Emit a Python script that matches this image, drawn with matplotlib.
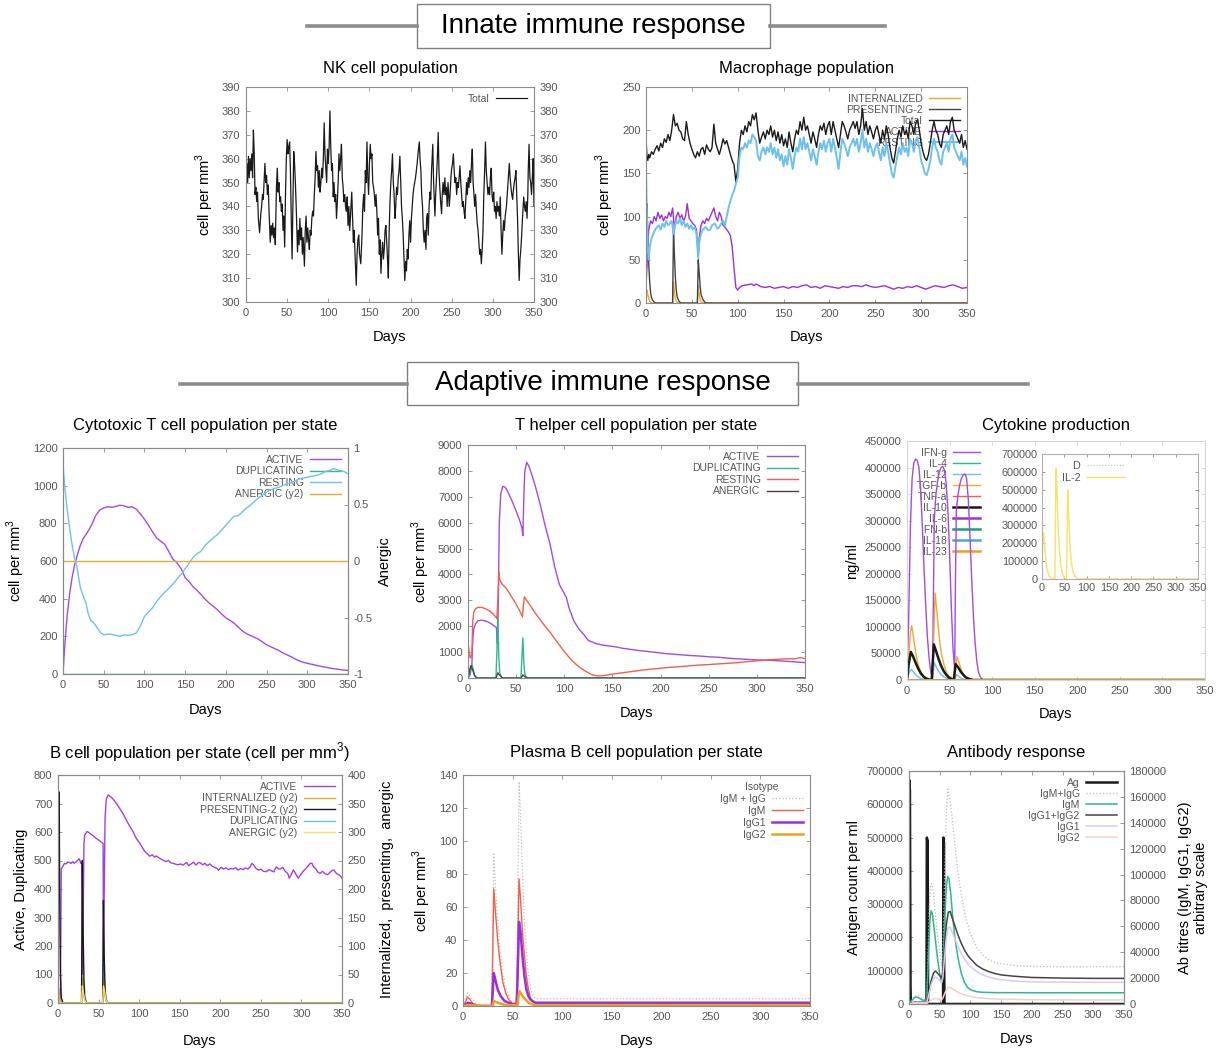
import matplotlib
matplotlib.use('Agg')
import matplotlib.pyplot as plt
from matplotlib.lines import Line2D
from matplotlib.patches import Rectangle

# ---------------- DATA ----------------
days_ticks = [0, 50, 100, 150, 200, 250, 300, 350]

nk_total = [(0,347),(1,358),(2,350),(3,361),(4,352),(5,360),(6,355),(7,362),(8,352),(9,372),(10,362),(11,345),(12,348),(13,342),(14,346),(15,335),(16.5,329),(18,337),(19,340),(20,345),(21,343),(22,351),(23,358),(24,350),(25,353),(26,345),(27,349),(28,338),(29.5,325),(30.5,332),(31.5,328),(32.5,333),(33.5,327),(34.5,331),(35.6,324),(36.5,340),(37,348),(38,356),(39,346),(40,350),(41,342),(42,344),(43,338),(44,341),(45,330),(46,336),(47,323),(48,345),(49,360),(50,368),(51,362),(52,365),(53,367),(54,355),(55,335),(56,318),(57,340),(58,363),(59,358),(60,350),(61,340),(62.6,321),(63.5,330),(64.5,324),(65.5,335),(66.5,326),(67.5,331),(68.5,320),(69.5,327),(71,315),(72,330),(73,336),(74,325),(75,331),(76,326),(77,322),(78,330),(79,328),(80,335),(81,338),(82,336),(83,345),(84,352),(85,363),(86,355),(87,357),(88,348),(89,355),(90,346),(91,350),(92,356),(93,352),(94,360),(95,375),(96,362),(97,356),(98,350),(99,364),(100,358),(101,365),(102,380),(103,365),(104,355),(105,358),(106,344),(107,350),(108,342),(109,345),(110,335),(111,342),(112,350),(113,362),(114,355),(115,360),(116,366),(117,352),(118,348),(119,342),(120,345),(121,340),(122,338),(123,344),(124,332),(125,340),(126,330),(127,336),(128.5,346),(129.5,335),(130.5,325),(131.5,330),(132.5,320),(134,307),(135,320),(136,326),(137,328),(138,320),(139.5,316),(141,328),(142,340),(143,345),(144,338),(145,355),(146,350),(147,367),(148,352),(149,345),(150,358),(151,366),(152,360),(153,362),(154,350),(155,348),(156,345),(157,340),(158,345),(159,338),(160,328),(161,335),(162,320),(163,326),(164,312),(165,320),(166,325),(167,318),(168,322),(169,330),(170,332),(171,325),(172,318),(173,310),(174,330),(175,342),(176,350),(177,355),(178,362),(179,350),(180,345),(181,335),(182,340),(183,348),(184,345),(185,352),(186,355),(187,361),(188,350),(189,340),(190,335),(191,328),(192,318),(193,309),(194,317),(195,313),(196,322),(197,318),(198,328),(199,334),(200,325),(201,335),(202,340),(203,345),(204,348),(205,350),(206,352),(207,355),(208,358),(209,362),(210.6,367),(211.5,360),(212.5,355),(213.5,345),(214.5,340),(215.5,330),(216.5,325),(217.5,330),(218.7,322),(219.5,335),(220.5,337),(221.5,328),(222.5,340),(223.5,346),(224.5,343),(225.5,355),(227,366),(228,350),(229.6,336),(230.5,345),(231.5,352),(232.5,360),(233.6,371),(234.5,355),(235.5,348),(236.5,342),(237.7,337),(238.5,345),(239.5,350),(240.5,345),(241.7,352),(242.5,345),(243.5,348),(244.5,340),(245.5,350),(247,340),(248,345),(249,352),(250,356),(251,358),(252,362),(253,355),(254,350),(255,352),(256,345),(257,350),(258,348),(259,352),(260,357),(261,350),(262,345),(263,340),(264,342),(265,338),(266,335),(267,342),(268,350),(269,345),(270,352),(271,348),(272,355),(273,350),(274,358),(275,364),(276,350),(277,345),(278,340),(279,345),(280,338),(281,333),(282,330),(283,325),(284,320),(285,322),(286,316),(287,322),(288,330),(289,345),(290,355),(291,367),(292,355),(293,350),(294,345),(295,348),(296,345),(297,352),(298,356),(299,345),(300,342),(301,346),(302,338),(303,340),(304,335),(305,342),(306,338),(307,340),(308,336),(309,344),(310,330),(311,320),(312,328),(313,334),(314,330),(315,336),(316.5,340),(317.5,345),(318.5,350),(320,358),(321,352),(322,348),(323,345),(324,343),(325,347),(326,350),(327,352),(328,355),(329,345),(330,335),(331,320),(332,309),(333,318),(334,322),(335,328),(336,335),(337.5,344),(338.5,340),(339.5,338),(340.5,342),(341.5,335),(342.5,345),(343,355),(344,366),(345,352),(346,350),(347,345),(348,352),(349,360),(350,340)]

mac_total = [(0,190),(1,170),(2,165),(3,172),(4,168),(6,175),(8,172),(10,178),(12,182),(14,176),(16,185),(18,180),(20,190),(22,186),(24,195),(26,188),(28,200),(30,218),(32,205),(34,208),(36,200),(38,198),(40,190),(42,188),(44,210),(46,195),(48,185),(50,178),(52,172),(54,168),(56,175),(58,170),(60,178),(62,180),(64,172),(66,183),(68,178),(70,175),(72,180),(74,207),(76,185),(78,178),(80,172),(82,180),(84,190),(86,184),(88,188),(90,180),(92,172),(94,165),(96,160),(98,140),(100,155),(102,185),(104,200),(106,195),(108,205),(110,198),(112,210),(114,205),(116,218),(118,212),(120,220),(122,200),(124,185),(126,192),(128,198),(130,190),(132,200),(134,195),(136,205),(138,192),(140,200),(142,188),(144,198),(146,185),(148,195),(150,182),(152,190),(154,180),(156,198),(158,185),(160,175),(162,190),(164,200),(166,195),(168,210),(170,200),(172,215),(174,200),(176,205),(178,195),(180,185),(182,198),(184,190),(186,180),(188,195),(190,205),(192,200),(194,208),(196,195),(198,205),(200,210),(202,195),(204,210),(206,200),(208,190),(210,180),(212,195),(214,210),(216,205),(218,198),(220,190),(222,200),(224,205),(226,210),(228,202),(230,210),(232,195),(234,205),(236,225),(238,200),(240,210),(242,195),(244,205),(246,198),(248,190),(250,200),(252,205),(254,195),(256,185),(258,200),(260,190),(262,205),(264,195),(266,180),(268,168),(270,162),(272,175),(274,190),(276,200),(278,192),(280,205),(282,195),(284,200),(286,190),(288,210),(290,205),(292,195),(294,208),(296,212),(298,200),(300,185),(302,175),(304,168),(306,165),(308,172),(310,185),(312,200),(314,210),(316,200),(318,195),(320,185),(322,180),(324,195),(326,200),(328,205),(330,195),(332,210),(334,215),(336,200),(338,195),(340,190),(342,185),(344,195),(346,180),(348,188),(350,178)]

mac_resting = [(0,155),(1,100),(2,60),(3,50),(4,65),(6,75),(8,80),(10,85),(12,88),(14,90),(16,85),(18,92),(20,88),(22,95),(24,90),(26,92),(28,95),(29,90),(30,80),(31,88),(33,95),(35,92),(37,98),(39,90),(41,95),(43,88),(45,92),(47,86),(49,90),(51,85),(53,88),(55,80),(57,52),(58,70),(60,80),(62,85),(65,88),(68,84),(70,85),(72,90),(75,92),(78,86),(80,88),(82,92),(84,95),(86,90),(88,100),(90,110),(92,118),(94,125),(96,130),(98,138),(100,145),(102,170),(104,180),(106,178),(108,185),(110,180),(112,188),(114,185),(116,195),(118,192),(120,188),(122,170),(124,165),(126,175),(128,180),(130,172),(132,180),(134,175),(136,185),(138,172),(140,180),(142,168),(144,178),(146,165),(148,172),(150,158),(152,170),(154,160),(156,178),(158,168),(160,155),(162,170),(164,180),(166,175),(168,190),(170,178),(172,192),(174,178),(176,185),(178,175),(180,165),(182,178),(184,170),(186,160),(188,175),(190,185),(192,178),(194,188),(196,175),(198,185),(200,190),(202,175),(204,190),(206,180),(208,168),(210,155),(212,175),(214,190),(216,185),(218,178),(220,170),(222,180),(224,185),(226,190),(228,182),(230,190),(232,175),(234,185),(236,200),(238,180),(240,190),(242,175),(244,185),(246,178),(248,170),(250,180),(252,185),(254,175),(256,165),(258,180),(260,170),(262,185),(264,175),(266,162),(268,150),(270,145),(272,158),(274,170),(276,180),(278,172),(280,185),(282,175),(284,180),(286,170),(288,190),(290,185),(292,175),(294,188),(296,192),(298,180),(300,165),(302,158),(304,150),(306,148),(308,155),(310,165),(312,180),(314,190),(316,180),(318,175),(320,165),(322,160),(324,175),(326,180),(328,185),(330,175),(332,190),(334,195),(336,180),(338,175),(340,170),(342,165),(344,175),(346,160),(348,168),(350,158)]

mac_active = [(0,20),(1,40),(2,70),(3,85),(5,95),(7,92),(9,100),(11,95),(13,105),(15,98),(17,102),(19,95),(21,100),(23,98),(25,105),(27,100),(29,110),(31,85),(33,100),(35,105),(37,98),(39,102),(41,95),(43,100),(45,115),(47,98),(49,95),(51,92),(53,90),(55,85),(56,70),(57,55),(58,75),(60,90),(62,95),(64,92),(66,98),(68,95),(70,100),(72,105),(74,110),(76,100),(78,95),(80,105),(82,100),(84,90),(86,88),(88,85),(90,82),(92,78),(94,65),(96,40),(98,18),(100,15),(102,18),(105,20),(110,21),(115,22),(118,20),(120,22),(125,19),(130,18),(135,19),(140,17),(145,18),(150,19),(155,17),(160,19),(165,18),(170,20),(175,21),(180,18),(185,19),(190,17),(195,20),(200,19),(205,18),(210,17),(215,19),(220,18),(225,20),(230,20),(235,19),(240,21),(245,19),(250,18),(255,19),(260,20),(265,18),(270,16),(275,18),(280,17),(285,19),(290,18),(295,20),(300,18),(305,16),(310,18),(315,20),(320,19),(325,18),(330,20),(335,21),(340,19),(345,17),(350,18)]

mac_presenting = [(0,0),(1,115),(2,80),(3,45),(4,25),(5,12),(6,6),(8,2),(10,0),(29,0),(30,85),(31,55),(32,30),(33,15),(34,7),(36,2),(38,0),(56,0),(57,50),(58,35),(59,20),(60,10),(62,4),(64,1),(66,0),(350,0)]
mac_internalized = [(0,0),(1,15),(2,10),(3,5),(4,2),(6,0),(29,0),(30,25),(31,12),(32,5),(33,2),(35,0),(56,0),(57,20),(58,10),(59,4),(60,1),(62,0),(350,0)]

ctl_active = [(0,0),(2,140),(5,305),(8,420),(11,508),(14,575),(17,623),(21,680),(25,720),(30,752),(35,790),(40,840),(45,870),(50,882),(55,888),(60,885),(65,890),(70,896),(75,893),(80,885),(85,888),(90,875),(95,850),(100,822),(105,790),(110,755),(115,722),(120,705),(125,688),(130,650),(135,610),(140,590),(145,560),(150,512),(155,490),(160,462),(165,442),(170,420),(175,395),(180,375),(185,358),(190,340),(195,318),(200,298),(205,285),(210,270),(215,250),(220,230),(225,215),(230,205),(235,195),(240,185),(245,170),(250,155),(255,145),(260,135),(265,125),(270,112),(275,102),(280,92),(285,80),(290,70),(295,62),(300,57),(305,52),(310,47),(315,42),(320,38),(325,34),(330,30),(335,27),(340,24),(345,21),(350,19)]
ctl_resting = [(0,1110),(2,1000),(5,880),(8,780),(11,690),(14,620),(17,570),(21,465),(25,410),(28,380),(31,320),(34,285),(38,270),(42,245),(46,220),(50,208),(55,212),(60,210),(65,205),(70,200),(75,208),(80,205),(85,208),(90,218),(95,255),(100,305),(105,330),(110,352),(115,385),(120,411),(125,435),(130,455),(136,482),(140,505),(145,530),(152,570),(156,595),(160,620),(165,640),(169,650),(175,685),(180,705),(185,725),(189,738),(195,765),(200,790),(205,815),(210,838),(215,840),(220,860),(225,880),(230,896),(235,915),(240,935),(245,950),(250,967),(255,978),(260,985),(265,992),(271,1002),(275,1010),(280,1015),(285,1025),(291,1037),(295,1040),(300,1045),(305,1050),(312,1055),(318,1065),(322,1075),(327,1080),(332,1090),(336,1085),(340,1080),(345,1075),(350,1064)]
ctl_duplicating = [(0,0),(350,0)]
ctl_anergic = [(0,0),(350,0)]

th_active = [(0,0),(2,100),(4,500),(5,1500),(6,1900),(8,2100),(10,2200),(13,2230),(16,2220),(20,2180),(24,2100),(27,2020),(29.5,1950),(30.5,1330),(31.5,3000),(32.5,6000),(34,7100),(36,7400),(38,7380),(40,7300),(45,6900),(50,6450),(54,6050),(56,5800),(57,5500),(58,7000),(59,8000),(61,8330),(63,8200),(65,8000),(70,7400),(75,6700),(80,5900),(85,5200),(90,4300),(95,3600),(102,3130),(105,2700),(110,2200),(115,1900),(119.5,1715),(125,1450),(133,1330),(140,1270),(154,1200),(160,1150),(170,1100),(180,1050),(190,1010),(206,940),(220,900),(230,870),(240,850),(250,820),(260,800),(275,750),(290,720),(300,700),(310,690),(320,670),(330,650),(340,620),(350,595)]
th_resting = [(0,1400),(1,1050),(2,800),(3,780),(4,1000),(5,2200),(6,2550),(8,2680),(10,2720),(14,2730),(18,2680),(22,2600),(26,2480),(29,2350),(30,2300),(31,3000),(32,4100),(33,3800),(35,3650),(40,3450),(45,3150),(50,2850),(55,2500),(56.5,2360),(57.5,2800),(58.5,3130),(60,3050),(65,2780),(70,2500),(75,2250),(80,2000),(85,1780),(90,1520),(95,1270),(100,1020),(105,800),(110,600),(115,440),(120,310),(125,200),(130,110),(135,80),(140,90),(150,150),(160,200),(170,250),(180,300),(190,340),(206,400),(220,440),(230,470),(240,500),(250,520),(260,545),(275,580),(290,630),(300,660),(310,700),(320,720),(330,740),(340,745),(345,790),(350,750)]
th_duplicating = [(0,0),(2,200),(4,500),(5,400),(7,100),(9,0),(29,0),(30,1000),(31,2400),(32,800),(33,200),(35,0),(55,0),(56,800),(57,1550),(58,600),(59,150),(61,0),(350,0)]
th_anergic = [(0,0),(2,350),(3,480),(5,300),(7,80),(9,0),(29,0),(31,200),(33,100),(36,0),(55,0),(57,120),(59,50),(62,0),(350,0)]

cyt_ifng = [(0,0),(2,120000),(4,290000),(6,380000),(8,408000),(10,416000),(12,414000),(14,400000),(16,360000),(18,290000),(20,210000),(22,140000),(24,80000),(26,40000),(28,15000),(30,5000),(31,150000),(32,300000),(34,350000),(36,375000),(38,392000),(40,400000),(42,402000),(44,395000),(46,370000),(48,320000),(50,240000),(52,140000),(54,60000),(56,20000),(57,200000),(58,320000),(60,350000),(62,368000),(64,380000),(66,386000),(68,388000),(70,380000),(72,340000),(74,270000),(76,190000),(78,120000),(80,70000),(82,35000),(84,15000),(86,6000),(88,2000),(90,500),(92,0),(350,0)]
cyt_tgfb = [(0,0),(2,40000),(4,90000),(5.5,102000),(7,88000),(9,65000),(11,45000),(13,30000),(15,20000),(18,10000),(21,5000),(25,2000),(29,500),(30,0),(31,60000),(33,164000),(35,130000),(37,95000),(39,65000),(41,45000),(44,25000),(47,12000),(50,6000),(54,2000),(56,0),(57,20000),(58.5,44000),(60,38000),(62,28000),(64,18000),(67,9000),(70,4000),(75,1000),(80,0),(350,0)]
cyt_il10 = [(0,0),(2,30000),(4.5,53000),(7,45000),(10,33000),(13,22000),(16,13000),(19,7000),(22,3000),(26,1000),(29,0),(31.5,67000),(34,55000),(37,40000),(40,27000),(43,17000),(46,10000),(49,5000),(52,2000),(55,0),(57,30000),(60,24000),(63,16000),(66,10000),(69,5000),(73,2000),(78,0),(350,0)]
cyt_il12 = [(0,0),(2,12000),(5,20000),(8,14000),(12,7000),(16,3000),(20,1000),(25,0),(30,0),(32,33000),(35,22000),(39,12000),(43,6000),(48,2000),(52,0),(56,0),(58,10000),(62,5000),(66,2000),(70,0),(350,0)]
cyt_flat = [(0,0),(350,0)]
cyt_il2 = [(0,0),(1,150000),(2,240000),(3,260000),(4,250000),(6,180000),(8,120000),(10,75000),(13,40000),(16,18000),(20,6000),(25,1000),(29,0),(30,300000),(31,580000),(32,620000),(33,540000),(35,380000),(37,250000),(39,160000),(42,80000),(45,35000),(50,8000),(55,1000),(56,200000),(57,420000),(58,500000),(59,420000),(61,280000),(63,180000),(66,90000),(70,35000),(75,10000),(80,2000),(85,0),(350,0)]
cyt_d = [(0,0),(350,0)]

b_active = [(0,0),(3,0),(3.5,250),(4,470),(6,480),(8,490),(10,488),(12,495),(14,493),(16,490),(18,496),(20,490),(22,494),(24,500),(26,506),(27,500),(28,490),(29.5,495),(30,100),(31,300),(32,560),(33,590),(35.8,602),(38,598),(40,593),(42,590),(44,585),(46,580),(48,576),(50,572),(52,568),(54,563),(55.6,560),(56,150),(57,400),(58,650),(59.5,715),(61.8,730),(64,726),(67,718),(70,708),(73,696),(76,683),(80,665),(84,643),(88,622),(92.6,601),(96,580),(100.9,560),(104,545),(107,532),(110,524),(113,515),(116,520),(119,512),(121,516),(124,510),(127,505),(130,500),(133,496),(136,500),(139,492),(142,490),(145,487),(148,485),(151,488),(154,484),(157,490),(158.5,493),(161,482),(164,488),(167,494),(170,484),(173,492),(175,493),(178,485),(181,490),(184,482),(187,488),(190,480),(193,476),(195.6,473),(198,466),(201,476),(204,470),(207,474),(210,468),(213,472),(216,470),(219,475),(222,466),(225,472),(228,468),(231,474),(234,470),(237,478),(239,490),(241,485),(244,472),(247,466),(250,470),(253,462),(257,461),(260,468),(263,464),(266,460),(269,478),(272,470),(274,470),(277,476),(280,462),(283,455),(285,438),(287,448),(290,467),(292,458),(294,448),(296,438),(299,450),(302,462),(305,470),(308,480),(311,490),(313,490),(315,478),(318,470),(320,460),(323,455),(326,462),(329,454),(332,450),(335,458),(338,465),(340,467),(343,455),(346,450),(348,445),(350,438)]
b_duplicating = [(0,0),(1,50),(2,20),(3,0),(29,0),(30,90),(31,60),(32,25),(34,5),(36,0),(55,0),(56,135),(57,90),(58,40),(60,10),(62,0),(350,0)]
b_internalized = [(0,0),(0.5,25),(1,22),(2,12),(3,4),(5,0),(29,0),(30,45),(31,25),(32,10),(34,2),(36,0),(55,0),(56,40),(57,25),(58,10),(60,2),(62,0),(350,0)]
b_presenting = [(0,0),(0.5,370),(1.5,370),(2,200),(3,50),(4,10),(6,0),(29,0),(30,250),(31,120),(32,40),(33,10),(35,0),(55,0),(56,180),(57,80),(58,25),(59,5),(61,0),(350,0)]
b_anergic = [(0,0),(29,0),(30,30),(31,20),(33,5),(35,0),(55,0),(56,30),(57.5,20),(59,5),(61,0),(350,0)]

pb_igm_igg = [(0,0),(2,4),(4.5,8),(8,5),(12,2),(16,0),(29,0),(30,40),(31,92),(33,70),(35,52),(37,36),(40,20),(43,11),(46,6),(49,3),(52,2),(54,2),(55,45),(56.5,136),(58,115),(60,80),(62,52),(64,32),(66,19),(68,11),(70,7),(73,4.4),(350,4.4)]
pb_igm = [(0,0),(2,2),(3,3),(4.5,5.5),(7,4),(10,1.5),(13,0.5),(16,0),(29,0),(30,30),(31,71),(33,55),(35,40),(37,28),(40,15),(43,8),(46,4),(49,2),(52,1),(54,1),(55,30),(56.5,77),(58,65),(60,45),(62,30),(64,18),(66,10),(68,5),(70,3),(73,1.8),(350,1.8)]
pb_igg1 = [(0,0),(3,1),(5,2),(8,1.5),(12,0.5),(16,0),(29,0),(30,8),(31,20),(33,15),(35,10),(38,6),(42,3),(46,2),(50,1),(54,1),(55,15),(56.5,51),(58,45),(60,30),(62,18),(64,10),(66,6),(68,4),(70,3),(73,2),(350,2)]
pb_igg2 = [(0,0),(5,0.5),(30,0),(31,3),(35,2),(40,1),(45,0.5),(55,0.5),(56,6),(57,9),(60,6),(63,4),(66,2),(70,1),(73,0.5),(350,0.5)]

ab_ag = [(0,0),(0.5,673000),(1.5,640000),(2.5,50000),(3,0),(28.5,0),(29,500000),(30.5,490000),(31,0),(55.5,0),(56,500000),(57,480000),(57.3,100000),(57.8,0),(350,0)]
ab_igm_igg = [(0,0),(5,3000),(10,6000),(15,6500),(20,5000),(25,3500),(29,3000),(31,40000),(33,75000),(35,92000),(37,93000),(40,85000),(43,70000),(46,55000),(50,40000),(53,30000),(55,35000),(58,100000),(61,150000),(63,166000),(66,160000),(70,145000),(75,122000),(80,100000),(85,85000),(90,72000),(95,62000),(100,54000),(110,44000),(120,38000),(130,34000),(140,32000),(150,31000),(170,29800),(200,29000),(250,28800),(300,28800),(350,28800)]
ab_igm = [(0,0),(5,3000),(10,5500),(15,5000),(20,3500),(25,2500),(29,2000),(31,30000),(34,65000),(36,72000),(38,70000),(41,58000),(44,45000),(47,33000),(50,23000),(53,17000),(55,22000),(58,65000),(61,92000),(63,98500),(65,97000),(68,85000),(71,68000),(75,50000),(80,35000),(85,24000),(90,17000),(95,13000),(100,11000),(110,9500),(120,9000),(140,8800),(160,8750),(200,8700),(250,8700),(300,8700),(350,8700)]
ab_igg12 = [(0,0),(5,1000),(10,1500),(20,1500),(29,1500),(32,8000),(36,18000),(40,24000),(43,25500),(46,24000),(50,22000),(53,20000),(55,25000),(58,45000),(61,62000),(64,71000),(67,71500),(70,67000),(75,60000),(80,53000),(85,47000),(90,42000),(95,38000),(100,35000),(110,30000),(120,27000),(130,25000),(140,23500),(150,22500),(170,21500),(200,20500),(250,20000),(300,19800),(350,19800)]
ab_igg1 = [(0,0),(5,800),(10,1200),(20,1200),(29,1200),(32,6500),(36,15000),(40,19500),(43,21000),(46,20000),(50,18000),(53,16500),(55,20000),(58,37000),(61,52000),(64,59000),(67,59500),(70,56000),(75,50000),(80,44000),(85,39000),(90,35000),(95,31500),(100,29000),(110,25000),(120,22500),(130,20800),(140,19500),(150,18700),(170,17800),(200,17100),(250,16800),(300,16700),(350,16700)]
ab_igg2 = [(0,0),(10,300),(29,300),(32,1500),(36,3000),(40,4000),(43,4300),(46,4000),(50,3600),(53,3300),(55,4500),(58,8000),(61,11000),(64,12500),(67,12900),(70,12000),(75,10500),(80,9000),(85,8000),(90,7000),(95,6300),(100,5800),(110,5000),(120,4500),(130,4100),(150,3700),(200,3300),(250,3200),(300,3100),(350,3100)]

# ---------------- STYLE ----------------
W, H = 1221, 1048
plt.rcParams['font.family'] = ['Liberation Sans', 'DejaVu Sans']
plt.rcParams['mathtext.fontset'] = 'custom'
plt.rcParams['mathtext.rm'] = 'Liberation Sans'
fig = plt.figure(figsize=(W / 100, H / 100), dpi=100)

PURPLE = '#a24be3'; GREEN = '#2fb888'; LBLUE = '#6ec1ea'; ORANGE = '#f0a830'
RED = '#f0604f'; YELLOW = '#f3e36a'; BLACK = '#1a1a1a'; DGREY = '#444444'
SP = '#8a8a8a'; TK = '#555555'
TICKFS = 8
TITLEFS = 12


def rect(l, t, r, b):
    return [l / W, 1 - b / H, (r - l) / W, (b - t) / H]


def xy(pairs):
    return [p[0] for p in pairs], [p[1] for p in pairs]


def style(ax, ylim, yticks, right=True, spc=SP):
    ax.set_xlim(0, 350)
    ax.set_ylim(*ylim)
    ax.set_xticks(days_ticks)
    ax.set_yticks(yticks)
    ax.tick_params(direction='in', length=3, width=0.6, colors=spc, labelcolor=TK,
                   labelsize=TICKFS, top=True, right=right, pad=4)
    for s in ax.spines.values():
        s.set_color(spc)
        s.set_linewidth(0.8)


def twin_style(ax2, ylim, yticks, labels=None):
    ax2.set_ylim(*ylim)
    ax2.set_yticks(yticks)
    if labels is not None:
        ax2.set_yticklabels(labels)
    ax2.tick_params(direction='in', length=3, width=0.6, colors=SP, labelcolor=TK,
                    labelsize=TICKFS, pad=4)
    for s in ax2.spines.values():
        s.set_color(SP)
        s.set_linewidth(0.8)


def titles(ax, title, ylabel, tpad=9, xpad=7, ypad=4):
    ax.set_title(title, fontsize=TITLEFS, pad=tpad)
    ax.set_xlabel('Days', fontsize=10.5, labelpad=xpad)
    ax.set_ylabel(ylabel, fontsize=10.5, labelpad=ypad)


def leg(ax, handles, labels, z=1, fs=7.5, **kw):
    opts = dict(loc='upper right', frameon=False, markerfirst=False, fontsize=fs,
                labelcolor=TK, handlelength=3.0, handletextpad=0.6,
                labelspacing=0.15, borderaxespad=0.25)
    opts.update(kw)
    lg = ax.legend(handles, labels, **opts)
    lg.set_zorder(z)
    return lg


def header(text, l, t, r, b, ll, lr):
    y = 1 - (t + b) / 2 / H
    fig.add_artist(Line2D([ll / W, l / W], [y, y], color='#8c8c8c', lw=2.6))
    fig.add_artist(Line2D([r / W, lr / W], [y, y], color='#8c8c8c', lw=2.6))
    fig.add_artist(Rectangle((l / W, 1 - b / H), (r - l) / W, (b - t) / H,
                             facecolor='white', edgecolor='#808080', lw=1.0))
    fig.text((l + r) / 2 / W, y, text, ha='center', va='center', fontsize=20,
             family=['Liberation Sans Narrow', 'Liberation Sans', 'DejaVu Sans'])


header('Innate immune response', 417, 4, 770, 48, 307, 885)
header('Adaptive immune response', 407, 362, 798, 405, 180, 1028)

SUP = 'cell per mm$^3$'

# ---- NK cells ----
ax = fig.add_axes(rect(246, 87, 534, 302))
style(ax, (300, 390), list(range(300, 391, 10)))
ax.tick_params(labelright=True)
x, y = xy(nk_total)
l1, = ax.plot(x, y, color=BLACK, lw=0.9)
titles(ax, 'NK cell population', SUP, tpad=10, xpad=9)
leg(ax, [l1], ['Total'], z=5)

# ---- Macrophages ----
ax = fig.add_axes(rect(646, 87, 967, 303))
style(ax, (0, 250), list(range(0, 251, 50)))
hs = []
for data, c, lw in [(mac_internalized, ORANGE, 1.0), (mac_presenting, DGREY, 1.0),
                    (mac_total, BLACK, 1.0), (mac_active, '#9a30dc', 1.0),
                    (mac_resting, LBLUE, 1.4)]:
    x, y = xy(data)
    h, = ax.plot(x, y, color=c, lw=lw)
    hs.append(h)
titles(ax, 'Macrophage population', SUP, tpad=10, xpad=8)
leg(ax, hs, ['INTERNALIZED', 'PRESENTING-2', 'Total', 'ACTIVE', 'RESTING'],
    labelspacing=0.1)

# ---- Cytotoxic T ----
ax = fig.add_axes(rect(63, 448, 348, 674))
style(ax, (0, 1200), list(range(0, 1201, 200)), right=False)
ax2 = ax.twinx()
twin_style(ax2, (-1, 1), [-1, -0.5, 0, 0.5, 1], ['-1', '-0.5', '0', '0.5', '1'])
hs = []
for data, c in [(ctl_active, PURPLE), (ctl_duplicating, GREEN), (ctl_resting, LBLUE)]:
    x, y = xy(data)
    h, = ax.plot(x, y, color=c, lw=1.0)
    hs.append(h)
x, y = xy(ctl_anergic)
h, = ax2.plot(x, y, color=ORANGE, lw=1.0)
hs.append(h)
titles(ax, 'Cytotoxic T cell population per state', SUP, tpad=13, xpad=10)
ax2.set_ylabel('Anergic', fontsize=10.5, labelpad=4)
leg(ax, hs, ['ACTIVE', 'DUPLICATING', 'RESTING', 'ANERGIC (y2)'])

# ---- T helper ----
ax = fig.add_axes(rect(468, 445, 805, 678))
style(ax, (0, 9000), list(range(0, 9001, 1000)))
hs = []
for data, c in [(th_active, PURPLE), (th_duplicating, GREEN), (th_resting, RED), (th_anergic, DGREY)]:
    x, y = xy(data)
    h, = ax.plot(x, y, color=c, lw=1.0)
    hs.append(h)
titles(ax, 'T helper cell population per state', SUP, tpad=11, xpad=9)
leg(ax, hs, ['ACTIVE', 'DUPLICATING', 'RESTING', 'ANERGIC'], z=5)

# ---- Cytokines ----
ax = fig.add_axes(rect(907, 441, 1205, 680))
style(ax, (0, 450000), list(range(0, 450001, 50000)), spc='#d5d5d5')
ax.tick_params(labelcolor=TK)
cyt_series = [(cyt_ifng, PURPLE, 1.0, 'IFN-g'), (cyt_flat, GREEN, 1.0, 'IL-4'),
              (cyt_il12, LBLUE, 1.0, 'IL-12'), (cyt_tgfb, ORANGE, 1.0, 'TGF-b'),
              (cyt_flat, RED, 1.0, 'TNF-a'), (cyt_il10, BLACK, 1.8, 'IL-10'),
              (cyt_flat, '#9a30dc', 1.8, 'IL-6'), (cyt_flat, '#1aa07a', 1.8, 'IFN-b'),
              (cyt_flat, '#4aa8e0', 1.8, 'IL-18'), (cyt_flat, '#eda020', 1.8, 'IL-23')]
hs, labs = [], []
for data, c, lw, lab in cyt_series:
    x, y = xy(data)
    h, = ax.plot(x, y, color=c, lw=lw)
    hs.append(h)
    labs.append(lab)
titles(ax, 'Cytokine production', 'ng/ml', tpad=8, xpad=8)
leg(ax, hs, labs, loc='upper left', bbox_to_anchor=(0.01, 1.0), handlelength=2.6,
    labelspacing=0.1)

axi = fig.add_axes(rect(1042, 454, 1198, 579))
axi.set_xlim(0, 350)
axi.set_ylim(0, 700000)
axi.set_xticks(days_ticks)
axi.set_yticks(list(range(0, 700001, 100000)))
axi.tick_params(direction='in', length=2.5, width=0.6, colors=SP, labelcolor=TK,
                labelsize=7.8, top=True, right=True, pad=3)
for s in axi.spines.values():
    s.set_color('#b0b0b0')
    s.set_linewidth(0.8)
x, y = xy(cyt_d)
hd, = axi.plot(x, y, color='#bbbbbb', lw=0.8, ls=':')
x, y = xy(cyt_il2)
hi, = axi.plot(x, y, color=YELLOW, lw=1.0)
leg(axi, [hd, hi], ['D', 'IL-2'], loc='upper left', bbox_to_anchor=(0.08, 1.0),
    fs=7.8, handlelength=3.5)

# ---- B cells ----
ax = fig.add_axes(rect(58, 775, 342, 1003))
style(ax, (0, 800), list(range(0, 801, 100)), right=False)
ax2 = ax.twinx()
twin_style(ax2, (0, 400), list(range(0, 401, 50)))
x, y = xy(b_active)
h_act, = ax.plot(x, y, color='#a040e0', lw=1.0)
x, y = xy(b_duplicating)
h_dup, = ax.plot(x, y, color=LBLUE, lw=1.0)
x, y = xy(b_internalized)
h_int, = ax2.plot(x, y, color=ORANGE, lw=1.0)
x, y = xy(b_presenting)
h_pre, = ax2.plot(x, y, color=BLACK, lw=1.0)
x, y = xy(b_anergic)
h_ane, = ax2.plot(x, y, color=YELLOW, lw=1.0)
titles(ax, 'B cell population per state (cell per mm$^3$)', 'Active, Duplicating',
       tpad=12, xpad=11)
ax2.set_ylabel('Internalized,  presenting,  anergic', fontsize=10.5, labelpad=10)
leg(ax2, [h_act, h_int, h_pre, h_dup, h_ane],
    ['ACTIVE', 'INTERNALIZED (y2)', 'PRESENTING-2 (y2)', 'DUPLICATING', 'ANERGIC (y2)'], z=5)

# ---- Plasma B ----
ax = fig.add_axes(rect(463, 775, 810, 1006))
style(ax, (0, 140), list(range(0, 141, 20)))
x, y = xy(pb_igm_igg)
h1, = ax.plot(x, y, color='#bdbdbd', lw=0.9, ls=':')
x, y = xy(pb_igm)
h2, = ax.plot(x, y, color=RED, lw=1.0)
x, y = xy(pb_igg1)
h3, = ax.plot(x, y, color='#9a30dc', lw=1.8)
x, y = xy(pb_igg2)
h4, = ax.plot(x, y, color='#eda020', lw=1.8)
titles(ax, 'Plasma B cell population per state', SUP, tpad=13, xpad=9)
lg = leg(ax, [h1, h2, h3, h4], ['IgM + IgG', 'IgM', 'IgG1', 'IgG2'], z=5,
         title='Isotype', title_fontsize=7.5, labelspacing=0.2)
lg.get_title().set_color(TK)

# ---- Antibody ----
ax = fig.add_axes(rect(909, 771, 1124, 1004))
style(ax, (0, 700000), list(range(0, 700001, 100000)), right=False)
ax2 = ax.twinx()
twin_style(ax2, (0, 180000), list(range(0, 180001, 20000)))
x, y = xy(ab_ag)
ha, = ax.plot(x, y, color=BLACK, lw=1.8)
hs = [ha]
for data, c, lw, ls in [(ab_igm_igg, '#bbbbbb', 0.9, ':'), (ab_igm, GREEN, 1.1, '-'),
                        (ab_igg12, DGREY, 1.1, '-'), (ab_igg1, '#dcc8f4', 1.1, '-'),
                        (ab_igg2, '#f9cfca', 1.1, '-')]:
    x, y = xy(data)
    h, = ax2.plot(x, y, color=c, lw=lw, ls=ls)
    hs.append(h)
ax.set_title('Antibody response', fontsize=TITLEFS, pad=10)
ax.set_xlabel('Days', fontsize=10.5, labelpad=9)
ax.set_ylabel('Antigen count per ml', fontsize=10.5, labelpad=4)
ax2.set_ylabel('Ab titres (IgM, IgG1, IgG2)\narbitrary scale', fontsize=10.5, labelpad=8)
leg(ax2, hs, ['Ag', 'IgM+IgG', 'IgM', 'IgG1+IgG2', 'IgG1', 'IgG2'], z=5,
    labelspacing=0.1)

fig.savefig('out.png', dpi=100, facecolor='white')
